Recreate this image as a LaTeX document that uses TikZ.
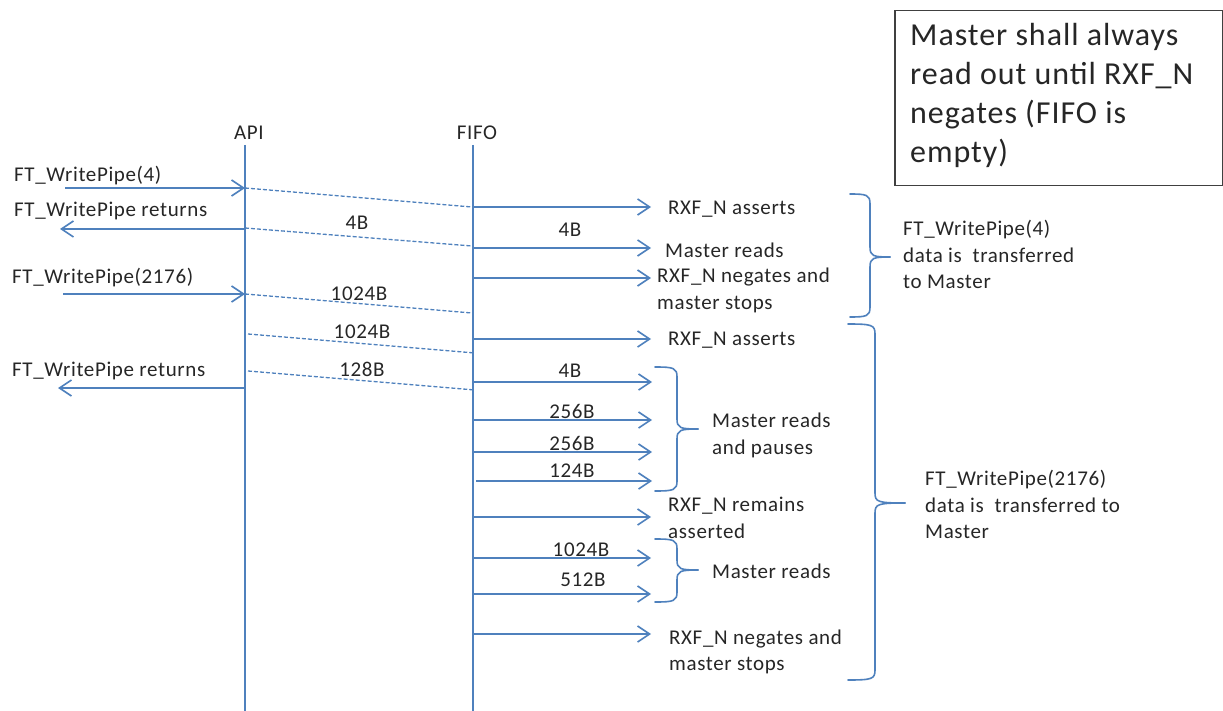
\documentclass[tikz,border=0pt]{standalone}
\usepackage{fontspec}
\setmainfont{Carlito}[LetterSpace=3]
\usetikzlibrary{arrows.meta}
\definecolor{lineblue}{RGB}{79,129,189}
\definecolor{inkgray}{RGB}{38,38,38}

% right-facing curly brace: tail x, spine x, tip x, top y, mid y, bottom y
\newcommand\sidebrace[6]{%
  \draw[brace] (#1,#4) .. controls ({#2-3},#4) and (#2,{#4+1}) .. (#2,{#4+10})
     -- (#2,{#5-10}) .. controls (#2,{#5-1}) and ({#2+3},#5) .. (#3,#5);
  \draw[brace] (#3,#5) .. controls ({#2+3},#5) and (#2,{#5+1}) .. (#2,{#5+10})
     -- (#2,{#6-10}) .. controls (#2,{#6-1}) and ({#2-3},#6) .. (#1,#6);
}

\begin{document}
\begin{tikzpicture}[x=1pt,y=-1pt,
  every node/.style={text=inkgray, inner sep=0pt},
  txt/.style={font=\fontsize{21}{26.5}\selectfont, anchor=base west, align=left},
  lbl/.style={font=\fontsize{21}{26.5}\selectfont, anchor=center},
  notetxt/.style={font=\fontsize{32}{39.3}\selectfont, anchor=base west, align=left},
  life/.style={draw=lineblue, line width=2pt},
  msg/.style={draw=lineblue, line width=1.6pt,
    -{Straight Barb[length=12pt,width=16pt,line width=1.6pt]}},
  data/.style={draw=lineblue, line width=1.3pt, dash pattern=on 4pt off 2pt},
  brace/.style={draw=lineblue, line width=1.6pt, line cap=round},
  notebox/.style={draw=black!75, line width=1.5pt}]

\useasboundingbox (0,0) rectangle (1223,711);

% lifelines
\coordinate (api) at (245,145);
\coordinate (apiEnd) at (245,711);
\coordinate (fifo) at (472.5,145);
\coordinate (fifoEnd) at (472.5,711);
\node[lbl] (apiHead) at (249,133) {API};
\node[lbl] (fifoHead) at (477,133) {FIFO};
\draw[life] (api) -- (apiEnd);
\draw[life] (fifo) -- (fifoEnd);

% calls into the API and its returns
\coordinate (call1) at (65,188);
\coordinate (ret1) at (60,229);
\coordinate (call2) at (63,294);
\coordinate (ret2) at (58,388);
\node[txt] (call1Txt) at (14,181.5) {FT\_WritePipe(4)};
\node[txt] (ret1Txt) at (14,217) {FT\_WritePipe returns};
\node[txt] (call2Txt) at (12,283.5) {FT\_WritePipe(2176)};
\node[txt] (ret2Txt) at (12,376.5) {FT\_WritePipe returns};
\draw[msg] (call1) -- (api |- call1);
\draw[msg] (api |- ret1) -- (ret1);
\draw[msg] (call2) -- (api |- call2);
\draw[msg] (api |- ret2) -- (ret2);

% data moved from API into the FIFO
\coordinate (d1a) at (245,188); \coordinate (d1b) at (472,207);
\coordinate (d2a) at (245,228); \coordinate (d2b) at (472,246);
\coordinate (d3a) at (245,294); \coordinate (d3b) at (472,313);
\coordinate (d4a) at (248,334); \coordinate (d4b) at (475,353);
\coordinate (d5a) at (248,371); \coordinate (d5b) at (475,390);
\draw[data] (d1a) -- (d1b);
\draw[data] (d2a) -- (d2b);
\draw[data] (d3a) -- (d3b);
\draw[data] (d4a) -- (d4b);
\draw[data] (d5a) -- (d5b);
\node[lbl] (d2Lbl) at (357,223) {4B};
\node[lbl] (d3Lbl) at (359,294) {1024B};
\node[lbl] (d4Lbl) at (362,332) {1024B};
\node[lbl] (d5Lbl) at (362,369) {128B};

% FIFO side events
\coordinate (m1) at (651,207);
\coordinate (m2) at (651,248);
\coordinate (m3) at (651,278);
\coordinate (m4) at (651,339);
\coordinate (m5) at (652,382);
\coordinate (m6) at (652,420);
\coordinate (m7) at (652,452);
\coordinate (m8) at (652,481);
\coordinate (m9) at (651,517);
\coordinate (m10) at (651,558);
\coordinate (m11) at (651,594);
\coordinate (m12) at (651,634);
\foreach \m in {m1,m2,m3,m4,m5,m6,m7,m9,m10,m11,m12}
  \draw[msg] (fifo |- \m) -- (\m);
\draw[msg] (476,481) -- (m8);

\node[lbl] (m2Lbl) at (570,230) {4B};
\node[lbl] (m5Lbl) at (570,371) {4B};
\node[lbl] (m6Lbl) at (572,411) {256B};
\node[lbl] (m7Lbl) at (572,443) {256B};
\node[lbl] (m8Lbl) at (572,471) {124B};
\node[lbl] (m10Lbl) at (581,550) {1024B};
\node[lbl] (m11Lbl) at (583,580) {512B};

% multi-line texts are anchored on the baseline of their last line
\node[txt] (m1Txt) at (668,215) {RXF\_N asserts};
\node[txt] (m2Txt) at (665,258) {Master reads};
\node[txt] (m3Txt) at (657,309) {RXF\_N negates and\\master stops};
\node[txt] (m4Txt) at (668,345) {RXF\_N asserts};
\node[txt] (pauseTxt) at (712,454) {Master reads\\and pauses};
\node[txt] (m9Txt) at (668,538) {RXF\_N remains\\asserted};
\node[txt] (readTxt) at (712,578.5) {Master reads};
\node[txt] (m12Txt) at (669,670.5) {RXF\_N negates and\\master stops};

% grouping braces
\sidebrace{655}{677}{698}{367}{429}{491}
\sidebrace{655}{677}{698}{539}{570}{602}
\sidebrace{850}{870}{890}{194}{257}{317}
\sidebrace{848}{875}{905}{324}{503}{680}

\node[txt] (grpA) at (903,288.5) {FT\_WritePipe(4)\\data is\ \ transferred\\to Master};
\node[txt] (grpB) at (925,538.5) {FT\_WritePipe(2176)\\data is\ \ transferred to\\Master};

% note
\node[notebox, anchor=north west, minimum width=328pt, minimum height=175pt] (note) at (894,10) {};
\node[notetxt] (noteTxt) at (910,163) {Master shall always\\read out until RXF\_N\\negates (FIFO is\\empty)};
\end{tikzpicture}
\end{document}
